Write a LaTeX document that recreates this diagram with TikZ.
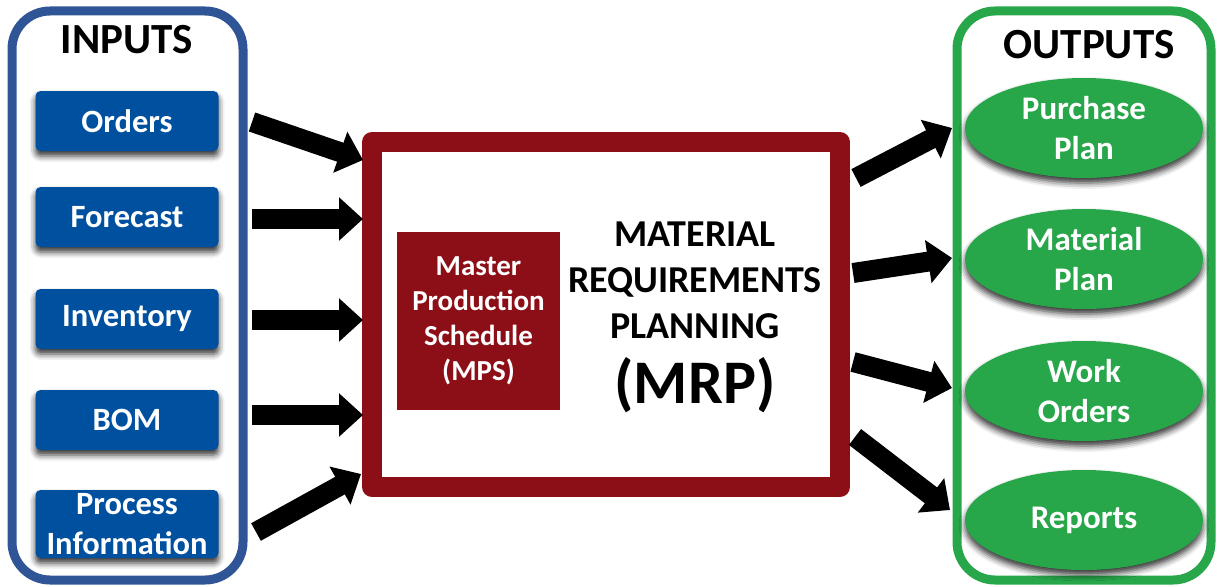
\documentclass[tikz,border=0pt]{standalone}
\usepackage{fontspec}
\setmainfont{Carlito}
\usetikzlibrary{arrows.meta,shapes.geometric,shadows.blur}
\definecolor{inblue}{RGB}{47,85,151}
\definecolor{boxblue}{RGB}{0,80,160}
\definecolor{mrpred}{RGB}{140,14,22}
\definecolor{outgreen}{RGB}{40,166,74}
\begin{document}
\begin{tikzpicture}[x=1pt,y=-1pt,
  container/.style={line width=9pt, rounded corners=38pt, minimum width=231pt, minimum height=569pt, inner sep=0pt},
  header/.style={font=\bfseries\fontsize{43}{47}\selectfont, text=black},
  inbox/.style={fill=boxblue, rounded corners=5pt, minimum width=183pt, minimum height=60pt, inner sep=0pt,
     text=white, align=center, font=\bfseries\fontsize{32.5}{40}\selectfont,
     blur shadow={shadow xshift=0pt, shadow yshift=-5pt, shadow blur radius=6pt, shadow opacity=80}},
  outell/.style={ellipse, fill=outgreen, minimum width=238pt, minimum height=100pt, inner sep=0pt,
     text=white, align=center, font=\bfseries\fontsize{33}{40}\selectfont,
     blur shadow={shadow xshift=0pt, shadow yshift=-5pt, shadow blur radius=6pt, shadow opacity=80}},
  blockarrow/.style={line width=20pt, black, -{Triangle[length=24pt,width=42pt]}}
]
\useasboundingbox (0,0) rectangle (1217,586);

% containers
\node[container, draw=inblue] (inputs) at (127.5,295.5) {};
\node[container, draw=outgreen, minimum width=254pt] (outputs) at (1084,295.5) {};
\node[header] (inhead) at (127,40) {INPUTS};
\node[header] (outhead) at (1089,45) {OUTPUTS};

% input boxes
\node[inbox] (orders) at (127,121) {Orders};
\node[inbox] (forecast) at (127,217) {Forecast};
\node[inbox] (inventory) at (127,319) {Inventory};
\node[inbox] (bom) at (127,420) {BOM};
\node[inbox, minimum height=68pt] (process) at (127,524) {Process\\Information};

% MRP box
\node[draw=mrpred, line width=20pt, line join=round, minimum width=468pt, minimum height=345pt, inner sep=0pt] (mrp) at (606,314.5) {};
\node[fill=mrpred, minimum width=163pt, minimum height=178pt, inner sep=0pt, text=white, align=center,
      font=\bfseries\fontsize{29}{35}\selectfont] (mps) at (478.5,321) {Master\\Production\\Schedule\\(MPS)};
\node[align=center, font=\bfseries\fontsize{38}{46}\selectfont] (mrptitle) at (695,280) {MATERIAL\\REQUIREMENTS\\PLANNING};
\node[font=\bfseries\fontsize{62}{68}\selectfont] (mrpabbr) at (695,385) {(MRP)};

% output ellipses
\node[outell] (purchase) at (1084,128) {Purchase\\Plan};
\node[outell] (material) at (1084,259) {Material\\Plan};
\node[outell] (work) at (1084,391) {Work\\Orders};
\node[outell] (reports) at (1084,520) {Reports};

% arrow ends
\coordinate (a1) at (252,122); \coordinate (b1) at (363,160);
\coordinate (a2) at (252,219); \coordinate (b2) at (363,219);
\coordinate (a3) at (252,320); \coordinate (b3) at (363,320);
\coordinate (a4) at (252,415); \coordinate (b4) at (363,415);
\coordinate (a5) at (256,532); \coordinate (b5) at (361,474);
\coordinate (c1) at (856,178); \coordinate (d1) at (952,128);
\coordinate (c2) at (853,273); \coordinate (d2) at (952,258);
\coordinate (c3) at (853,362); \coordinate (d3) at (952,388);
\coordinate (c4) at (855,437); \coordinate (d4) at (950,510);

\draw[blockarrow] (a1) -- (b1);
\draw[blockarrow] (a2) -- (b2);
\draw[blockarrow] (a3) -- (b3);
\draw[blockarrow] (a4) -- (b4);
\draw[blockarrow] (a5) -- (b5);
\draw[blockarrow] (c1) -- (d1);
\draw[blockarrow] (c2) -- (d2);
\draw[blockarrow] (c3) -- (d3);
\draw[blockarrow] (c4) -- (d4);
\end{tikzpicture}
\end{document}
